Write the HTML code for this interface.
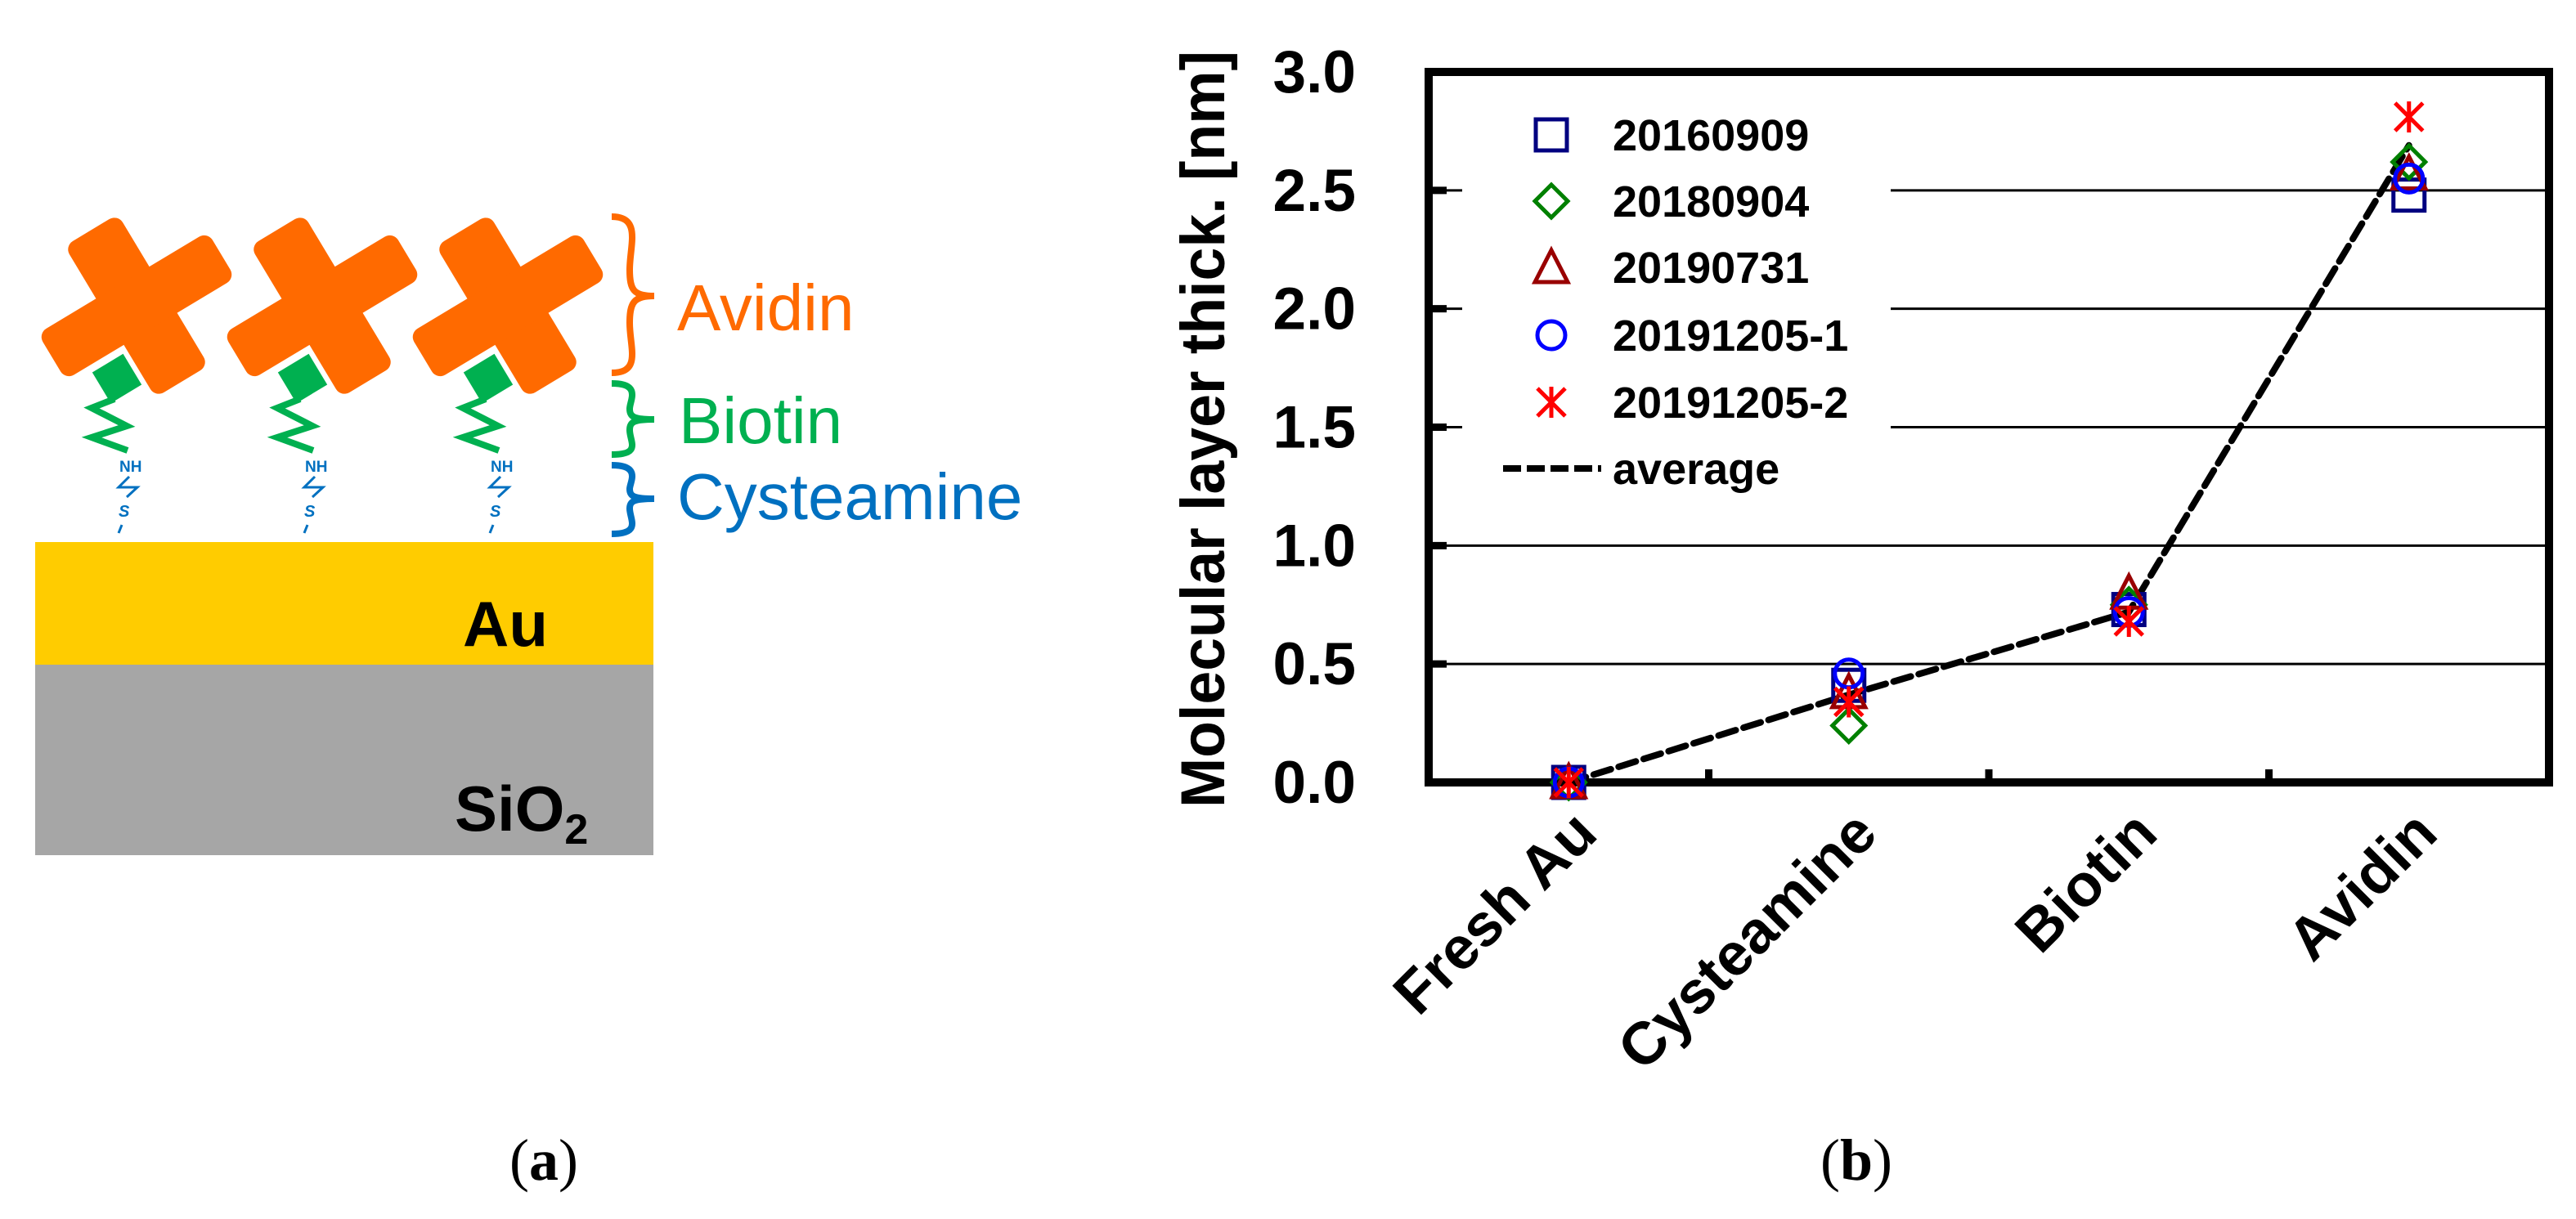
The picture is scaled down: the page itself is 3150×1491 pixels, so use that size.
<!DOCTYPE html>
<html><head><meta charset="utf-8">
<style>
html,body{margin:0;padding:0;background:#fff;}
svg{display:block;}
text{font-family:"Liberation Sans",Arial,sans-serif;}
</style></head>
<body>
<svg id="fig" width="3150" height="1491" viewBox="0 0 3150 1491" xmlns="http://www.w3.org/2000/svg">
  <!-- Panel (a) -->
  <g>
    <rect x="43" y="663" width="756" height="150" fill="#ffcc00"/>
    <rect x="43" y="813" width="756" height="233" fill="#a6a6a6"/>
    <text x="618" y="790" font-size="78" font-weight="bold" text-anchor="middle" fill="#000">Au</text>
    <text x="556" y="1016" font-size="78" font-weight="bold" fill="#000">SiO<tspan font-size="52" dy="16">2</tspan></text>
    <g id="molecules"></g>
    <path d="M748,265 C785,265 770,300 770,330 C770,355 775,362 800,362 C775,362 770,370 770,395 C770,425 785,456 748,456" fill="none" stroke="#ff6a00" stroke-width="8"/>
    <path d="M748,469 C785,469 770,490 770,500 C770,510 775,513 800,513 C775,513 770,516 770,526 C770,540 785,556 748,556" fill="none" stroke="#00b050" stroke-width="8"/>
    <path d="M748,569 C785,569 770,590 770,598 C770,607 775,610 800,610 C775,610 770,613 770,622 C770,635 785,653 748,653" fill="none" stroke="#0070c0" stroke-width="8"/>
    <text x="828" y="404" font-size="80" fill="#ff6a00">Avidin</text>
    <text x="830" y="542" font-size="80" fill="#00b050">Biotin</text>
    <text x="828" y="635" font-size="80" fill="#0070c0">Cysteamine</text>
  </g>
  <text x="665" y="1443" font-size="72" text-anchor="middle" style="font-family:'Liberation Serif',serif">(<tspan font-weight="bold">a</tspan>)</text>
  <text x="2270" y="1443" font-size="72" text-anchor="middle" style="font-family:'Liberation Serif',serif">(<tspan font-weight="bold">b</tspan>)</text>
  <!-- Panel (b) -->
  <g id="chart"></g>
</svg>
<script>
const categories = ["Fresh Au", "Cysteamine", "Biotin", "Avidin"];
const seriesNames = ["20160909", "20180904", "20190731", "20191205-1", "20191205-2"];
const s20160909 = [0, 0.41, 0.73, 2.48];
const s20180904 = [0, 0.24, 0.75, 2.62];
const s20190731 = [0, 0.38, 0.80, 2.57];
const s20191205_1 = [0, 0.46, 0.72, 2.55];
const s20191205_2 = [0, 0.34, 0.68, 2.81];
const averageValues = [0, 0.37, 0.72, 2.69];
const yTicks = [0, 0.5, 1.0, 1.5, 2.0, 2.5, 3.0];
const yTickLabels = ["0.0", "0.5", "1.0", "1.5", "2.0", "2.5", "3.0"];

const NS = "http://www.w3.org/2000/svg";
function mk(tag, attrs, parent){const e=document.createElementNS(NS,tag);for(const k in attrs)e.setAttribute(k,attrs[k]);parent.appendChild(e);return e;}

// molecules in panel (a)
const mol = document.getElementById('molecules');
[0,1,2].forEach(i=>{
  const dx = i*227;
  const g = mk('g',{transform:`translate(${dx},0)`},mol);
  
  
  const c = mk('g',{transform:'translate(167,374) rotate(-31)'},g);
  mk('rect',{x:-38,y:-108,width:76,height:216,rx:12,fill:'#ff6a00'},c);
  mk('rect',{x:-121,y:-33,width:242,height:66,rx:12,fill:'#ff6a00'},c);
  mk('rect',{x:-22,y:-22,width:44,height:44,fill:'#00b050',transform:'translate(143,463) rotate(-31)'},g);
  mk('polyline',{points:'140,488 112,499 155,521 112,535 156,551',fill:'none',stroke:'#00b050','stroke-width':8},g);
  const nh = mk('text',{x:146,y:577,'font-size':19,'font-weight':'bold',fill:'#0070c0'},g); nh.textContent='NH';
  mk('polyline',{points:'158,583 145,596 168,596 155,608',fill:'none',stroke:'#0070c0','stroke-width':3},g);
  const s = mk('text',{x:145,y:632,'font-size':20,'font-weight':'bold','font-style':'italic',fill:'#0070c0'},g); s.textContent='S';
  mk('line',{x1:149,y1:642,x2:145,y2:652,stroke:'#0070c0','stroke-width':3},g);
});

// chart
const chart = document.getElementById('chart');
const L=1747, R=3117, T=88, B=957, yMax=3.0;
const yS = v => B - (v/yMax)*(B-T);
const xS = i => L + (i+0.5)*(R-L)/categories.length;

yTicks.forEach((v,i)=>{
  if(v>0 && v<yMax){
    const gl = mk('line',{x1:L,y1:yS(v),x2:R,y2:yS(v),stroke:'#000','stroke-width':3},chart);
    
    
    const tk = mk('line',{x1:L,y1:yS(v),x2:L+22,y2:yS(v),stroke:'#000','stroke-width':9},chart);
    
    
  }
  const t = mk('text',{x:1658,y:yS(v)+25,'font-size':73,'font-weight':'bold','text-anchor':'end'},chart);
  t.textContent = yTickLabels[i];
  
  
});
const lb = mk('rect',{x:1788,y:110,width:524,height:500,fill:'#fff'},chart);



for(let i=1;i<categories.length;i++){
  const xb = L + i*(R-L)/categories.length;
  const tk = mk('line',{x1:xb,y1:B,x2:xb,y2:B-16,stroke:'#000','stroke-width':9},chart);
  
  
}
const fr = mk('rect',{x:L,y:T,width:R-L,height:B-T,fill:'none',stroke:'#000','stroke-width':10},chart);



categories.forEach((c,i)=>{
  const x = xS(i)+38, y=1023;
  const t = mk('text',{x:x,y:y,'font-size':73,'font-weight':'bold','text-anchor':'end',transform:`rotate(-45 ${x} ${y})`},chart);
  t.textContent = c;
  
  
});
const yt = mk('text',{x:0,y:0,'font-size':76,'font-weight':'bold','text-anchor':'middle',transform:'translate(1497,525) rotate(-90)',textLength:926,lengthAdjust:'spacingAndGlyphs'},chart);
yt.textContent = 'Molecular layer thick. [nm]';



const avgPts = averageValues.map((v,i)=>`${xS(i)},${yS(v)}`).join(' ');
const al = mk('polyline',{points:avgPts,fill:'none',stroke:'#000','stroke-width':8,'stroke-dasharray':'22 10','stroke-linecap':'round'},chart);



const colors = ['#000080','#008000','#990000','#0000ff','#ff0000'];
function marker(type, x, y, parent){
  const g = mk('g',{fill:'none','stroke-width':5,stroke:colors[type]},parent);
  if(type===0) mk('rect',{x:x-19,y:y-19,width:38,height:38},g);
  else if(type===1) mk('polygon',{points:`${x},${y-20} ${x+20},${y} ${x},${y+20} ${x-20},${y}`},g);
  else if(type===2) mk('polygon',{points:`${x},${y-21} ${x+20},${y+18} ${x-20},${y+18}`},g);
  else if(type===3) mk('circle',{cx:x,cy:y,r:17},g);
  else { mk('line',{x1:x,y1:y-19,x2:x,y2:y+19},g); mk('line',{x1:x-17,y1:y-17,x2:x+17,y2:y+17},g); mk('line',{x1:x-17,y1:y+17,x2:x+17,y2:y-17},g); }
  return g;
}
const allSeries = [s20160909, s20180904, s20190731, s20191205_1, s20191205_2];
allSeries.forEach((arr,si)=>{
  arr.forEach((v,i)=>{
    const m = marker(si, xS(i), yS(v), chart);
    
    
  });
});

const legY = [165,246,327,410,492,573];
seriesNames.forEach((n,si)=>{
  const m = marker(si, 1897, legY[si], chart);
  
  
  const t = mk('text',{x:1972,y:legY[si]+19,'font-size':54,'font-weight':'bold'},chart);
  t.textContent = n;
  
  
});
const ll = mk('line',{x1:1838,y1:legY[5],x2:1958,y2:legY[5],stroke:'#000','stroke-width':8,'stroke-dasharray':'22 7'},chart);


const at = mk('text',{x:1972,y:legY[5]+19,'font-size':54,'font-weight':'bold'},chart);
at.textContent = 'average';


</script>
</body></html>
